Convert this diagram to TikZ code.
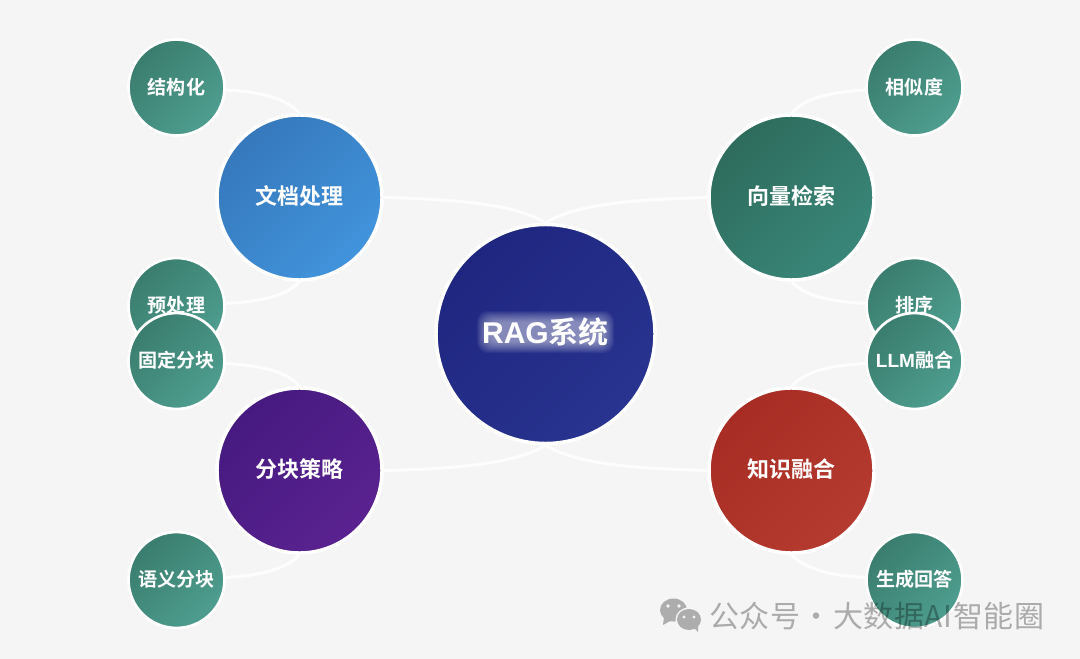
\documentclass[tikz,border=0pt]{standalone}
\usepackage{fontspec}
\setmainfont{Liberation Sans}
\newfontfamily\cjkb[BoldFont={Noto Sans CJK SC Bold}]{Noto Sans CJK SC}
\newfontfamily\cjkwm[LetterSpace=2]{Noto Sans CJK SC}
\newfontfamily\latb{Liberation Sans}
\usetikzlibrary{backgrounds}
\newcommand{\liftup}[1]{\raisebox{0.75pt}[\height][\depth]{#1}}
\definecolor{pagebg}{HTML}{F5F5F5}
\definecolor{wm}{HTML}{ADADAD}
\tikzset{
  x=0.75pt,y=-0.75pt,
  bubble/.style={circle,draw=white,inner sep=0pt,text=white,align=center,font=\cjkb\bfseries},
  rootnode/.style={bubble,minimum size=164.25pt,line width=2.6pt,left color=rootA,right color=rootB,shading angle=45},
  topicnode/.style={bubble,minimum size=123.75pt,line width=2.6pt,font=\fontsize{16.5pt}{20pt}\cjkb\bfseries},
  leafnode/.style={bubble,minimum size=72pt,line width=2pt,font=\fontsize{14.3pt}{17pt}\cjkb\bfseries,
     left color=leafA,right color=leafB,shading angle=45},
  link/.style={draw=white,line width=2.25pt,opacity=.85},
  glow/.style={fill=white,rounded corners=8pt,draw=none}
}
\definecolor{rootA}{HTML}{1F2680}
\definecolor{rootB}{HTML}{283490}
\definecolor{leafA}{HTML}{3A7D6E}
\definecolor{leafB}{HTML}{4E9E8F}
\definecolor{docA}{HTML}{3678BC}
\definecolor{docB}{HTML}{4194DC}
\definecolor{vecA}{HTML}{2E6C5D}
\definecolor{vecB}{HTML}{398779}
\definecolor{chuA}{HTML}{461A80}
\definecolor{chuB}{HTML}{5A2290}
\definecolor{fusA}{HTML}{A72C23}
\definecolor{fusB}{HTML}{B53A2F}
\begin{document}
\begin{tikzpicture}
\useasboundingbox (0,0) rectangle (1080,659);
\begin{scope}[on background layer]
  \fill[pagebg] (0,0) rectangle (1080,659);
\end{scope}
% main circles
\node[rootnode] (root) at (545.5,334) {};
\foreach \m in {0,1,...,11}{
  \fill[glow,opacity=.05] (477+\m,311+\m) rectangle (614-\m,353-\m);
}
\node[text=white,font=\fontsize{22.5pt}{26pt}\latb\bfseries] (rootlabel) at (545.5,332) {RAG{\cjkb\bfseries 系统}};
\node[topicnode,left color=docA,right color=docB,shading angle=45] (doc) at (299.5,197.5) {\liftup{文档处理}};
\node[topicnode,left color=vecA,right color=vecB,shading angle=45] (vec) at (791.5,197.5) {\liftup{向量检索}};
\node[topicnode,left color=chuA,right color=chuB,shading angle=45] (chu) at (299.5,470.5) {\liftup{分块策略}};
\node[topicnode,left color=fusA,right color=fusB,shading angle=45] (fus) at (791.5,470.5) {\liftup{知识融合}};
% leaves
\node[leafnode] (l1) at (176.5,87.5) {结构化};
\node[leafnode] (l2) at (176.5,306) {\liftup{预处理}};
\node[leafnode] (l3) at (176.5,361) {\liftup{固定分块}};
\node[leafnode] (l4) at (176.5,580) {\liftup{语义分块}};
\node[leafnode] (r1) at (914.5,87.5) {相似度};
\node[leafnode] (r2) at (914.5,306) {\liftup{排序}};
\node[leafnode] (r3) at (914.5,361) {\liftup{{\latb\bfseries LLM}融合}};
\node[leafnode] (r4) at (914.5,580) {\liftup{生成回答}};
% connectors
\begin{scope}[on background layer]
  \draw[link] (doc.east) .. controls +(85,2) and (518,206) .. (root.north);
  \draw[link] (vec.west) .. controls +(-85,2) and (573,206) .. (root.north);
  \draw[link] (chu.east) .. controls +(85,-2) and (518,462) .. (root.south);
  \draw[link] (fus.west) .. controls +(-85,-2) and (573,462) .. (root.south);
  \draw[link] (l1.-3) .. controls +(40,2) and (288,100) .. (doc.north);
  \draw[link] (l2.3) .. controls +(40,-2) and (288,294) .. (doc.south);
  \draw[link] (l3.-3) .. controls +(40,2) and (288,373) .. (chu.north);
  \draw[link] (l4.3) .. controls +(40,-2) and (288,567) .. (chu.south);
  \draw[link] (r1.183) .. controls +(-40,2) and (803,100) .. (vec.north);
  \draw[link] (r2.177) .. controls +(-40,-2) and (803,294) .. (vec.south);
  \draw[link] (r3.183) .. controls +(-40,2) and (803,373) .. (fus.north);
  \draw[link] (r4.177) .. controls +(-40,-2) and (803,567) .. (fus.south);
\end{scope}
% watermark
\fill[wm] (673.5,610) ellipse [x radius=13.5,y radius=11.5];
\fill[wm] (664,617) -- (663,625) -- (672,620) -- cycle;
\fill[pagebg] (689,619.5) ellipse [x radius=13.5,y radius=12];
\fill[wm] (689,619.5) ellipse [x radius=12,y radius=10.5];
\fill[wm] (693,627) -- (698,632) -- (698,624) -- cycle;
\fill[pagebg] (668,606) circle [radius=1.9];
\fill[pagebg] (679,606) circle [radius=1.9];
\fill[pagebg] (684,617) circle [radius=1.6];
\fill[pagebg] (694,617) circle [radius=1.6];
\node[anchor=west,inner sep=0pt,text=black,text opacity=.3,font=\fontsize{22.5pt}{26pt}\cjkwm] (mark) at (709,616) {公众号\hspace{-4.5pt} · \hspace{-4.5pt}大数据AI智能圈};
\end{tikzpicture}
\end{document}
